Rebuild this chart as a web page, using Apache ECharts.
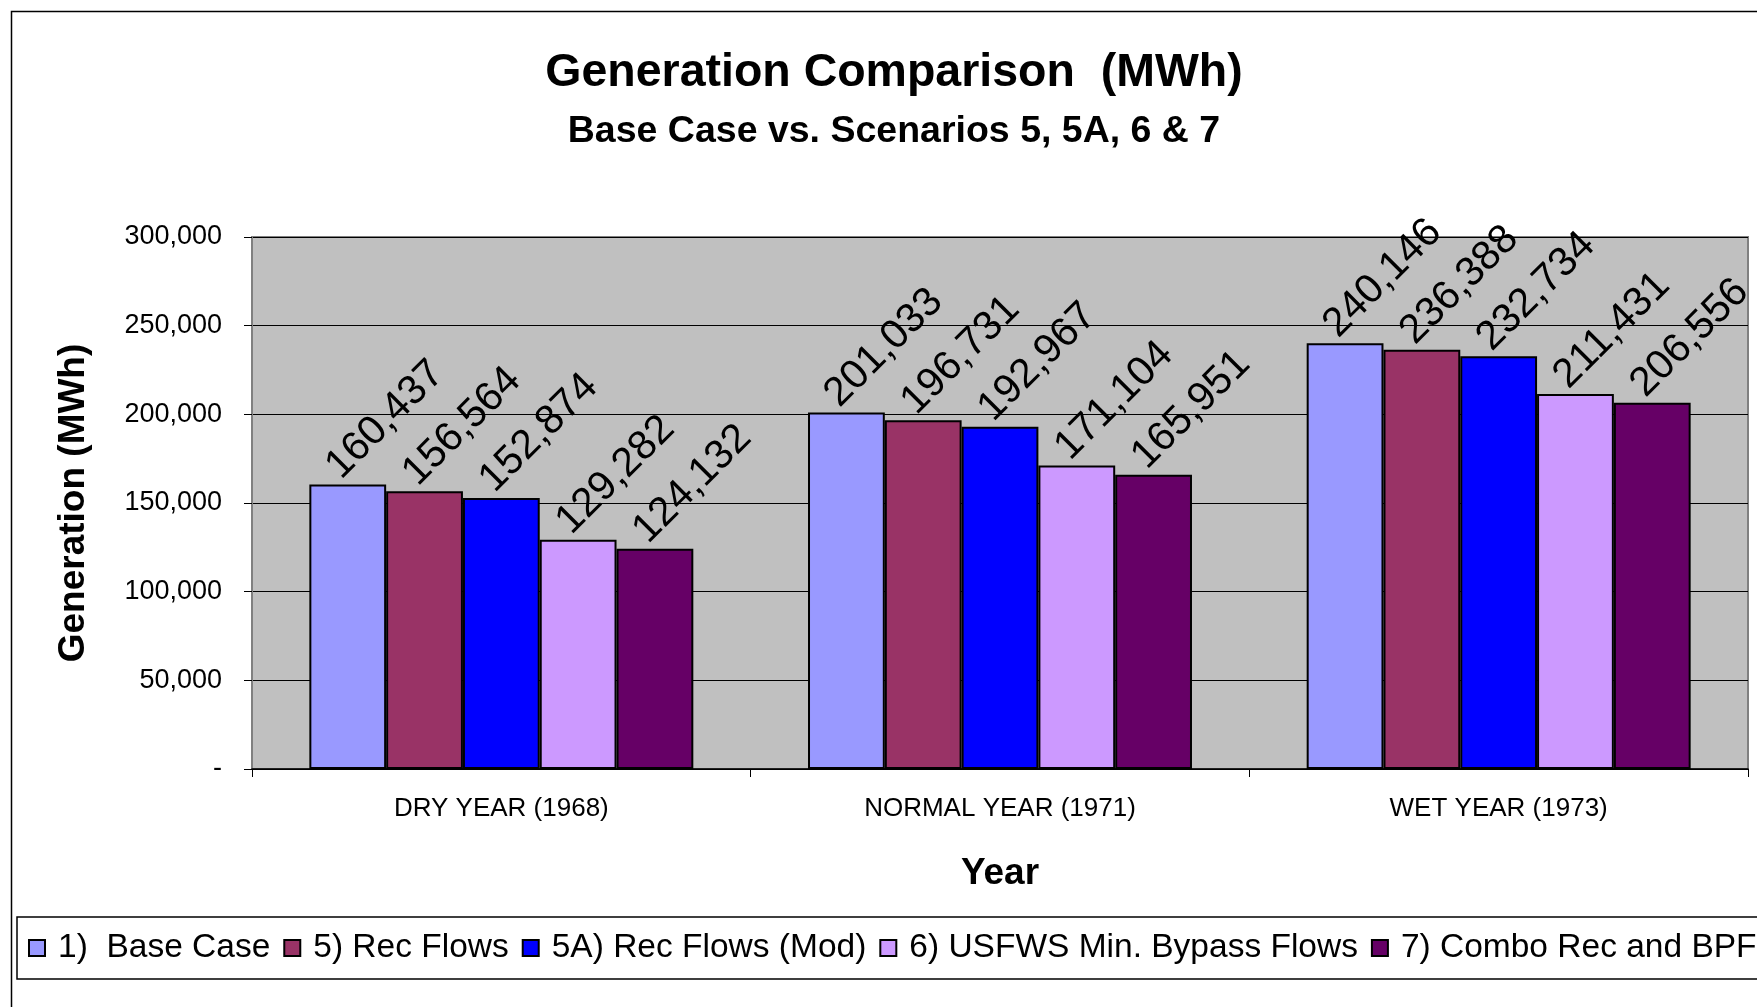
<!DOCTYPE html>
<html>
<head>
<meta charset="utf-8">
<title>Generation Comparison</title>
<script src="https://cdn.jsdelivr.net/npm/echarts@6/dist/echarts.min.js"></script>
<style>
  html, body { margin: 0; padding: 0; background: #fff; }
  #main { width: 1757px; height: 1007px; }
</style>
</head>
<body>
<div id="main"></div>
<script>
// 数据
const years = ['DRY YEAR (1968)', 'NORMAL YEAR (1971)', 'WET YEAR (1973)']
const baseCase = [160437, 201033, 240146]
const recFlows = [156564, 196731, 236388]
const recFlowsMod = [152874, 192967, 232734]
const usfwsBypass = [129282, 171104, 211431]
const comboRecBpf = [124132, 165951, 206556]
const seriesNames = ['1)  Base Case', '5) Rec Flows', '5A) Rec Flows (Mod)', '6) USFWS Min. Bypass Flows', '7) Combo Rec and BPF']
const yTickLabels = ['-', '50,000', '100,000', '150,000', '200,000', '250,000', '300,000']

const colors = ['#9999FF', '#993366', '#0000FF', '#CC99FF', '#660066']
const font = 'Arial, "Liberation Sans", sans-serif'

// 千分位
const fmt = (v) => String(v).replace(/\B(?=(\d{3})+(?!\d))/g, ',')

const myChart = echarts.init(document.getElementById('main'))

const makeSeries = (name, data, i) => ({
  name: name,
  type: 'bar',
  data: data,
  barGap: '0%',
  barCategoryGap: '23%',
  itemStyle: {
    color: colors[i],
    borderColor: '#000',
    borderWidth: 2
  },
  label: {
    show: true,
    position: 'top',
    rotate: 45,
    align: 'left',
    verticalAlign: 'middle',
    distance: 6,
    offset: [-6, -15],
    fontFamily: font,
    fontSize: 41,
    color: '#000',
    formatter: (p) => fmt(p.value)
  }
})

const option = {
  animation: false,
  backgroundColor: '#fff',
  textStyle: { fontFamily: font },
  title: [
    {
      text: 'Generation Comparison  (MWh)',
      left: 889,
      textAlign: 'center',
      top: 45,
      textStyle: { fontSize: 46.5, fontWeight: 'bold', color: '#000', fontFamily: font }
    },
    {
      text: 'Base Case vs. Scenarios 5, 5A, 6 & 7',
      left: 889,
      textAlign: 'center',
      top: 108,
      textStyle: { fontSize: 37.5, fontWeight: 'bold', color: '#000', fontFamily: font }
    }
  ],
  // 外框
  graphic: [
    {
      type: 'rect',
      left: 9,
      top: 9,
      shape: { width: 2000, height: 2000 },
      style: { fill: 'none', stroke: '#000', lineWidth: 1.5 },
      silent: true
    }
  ],
  grid: {
    left: 252,
    right: 9,
    top: 237,
    bottom: 238,
    show: true,
    backgroundColor: '#C0C0C0',
    borderColor: '#808080',
    borderWidth: 2
  },
  legend: {
    data: seriesNames,
    left: 17,
    top: 917,
    width: 2400,
    padding: [14, 11],
    itemGap: 13,
    itemWidth: 16,
    itemHeight: 16,
    borderColor: '#000',
    borderWidth: 1.5,
    icon: 'rect',
    textStyle: { fontSize: 33.5, color: '#000', fontFamily: font, padding: [0, 0, 0, 8] }
  },
  xAxis: {
    type: 'category',
    data: years,
    name: 'Year',
    nameLocation: 'middle',
    nameGap: 86,
    nameTextStyle: { fontSize: 37, fontWeight: 'bold', color: '#000', fontFamily: font },
    axisLine: { show: true, lineStyle: { color: '#000', width: 1.5 } },
    axisTick: { show: true, length: 8, lineStyle: { color: '#000' } },
    axisLabel: { fontSize: 26, color: '#000', margin: 27, fontFamily: font },
    splitLine: { show: false }
  },
  yAxis: {
    type: 'value',
    min: 0,
    max: 300000,
    interval: 50000,
    name: 'Generation (MWh)',
    nameLocation: 'middle',
    nameRotate: 90,
    nameGap: 160,
    nameTextStyle: { fontSize: 37, fontWeight: 'bold', color: '#000', fontFamily: font },
    axisLine: { show: true, lineStyle: { color: '#808080', width: 2 } },
    axisTick: { show: true, length: 8, lineStyle: { color: '#000' } },
    axisLabel: {
      fontSize: 27,
      color: '#000',
      margin: 30,
      fontFamily: font,
      formatter: (v) => yTickLabels[Math.round(v / 50000)]
    },
    splitLine: { show: true, lineStyle: { color: '#000', width: 1 } }
  },
  series: [
    makeSeries(seriesNames[0], baseCase, 0),
    makeSeries(seriesNames[1], recFlows, 1),
    makeSeries(seriesNames[2], recFlowsMod, 2),
    makeSeries(seriesNames[3], usfwsBypass, 3),
    makeSeries(seriesNames[4], comboRecBpf, 4)
  ]
}
myChart.setOption(option)
</script>
</body>
</html>
